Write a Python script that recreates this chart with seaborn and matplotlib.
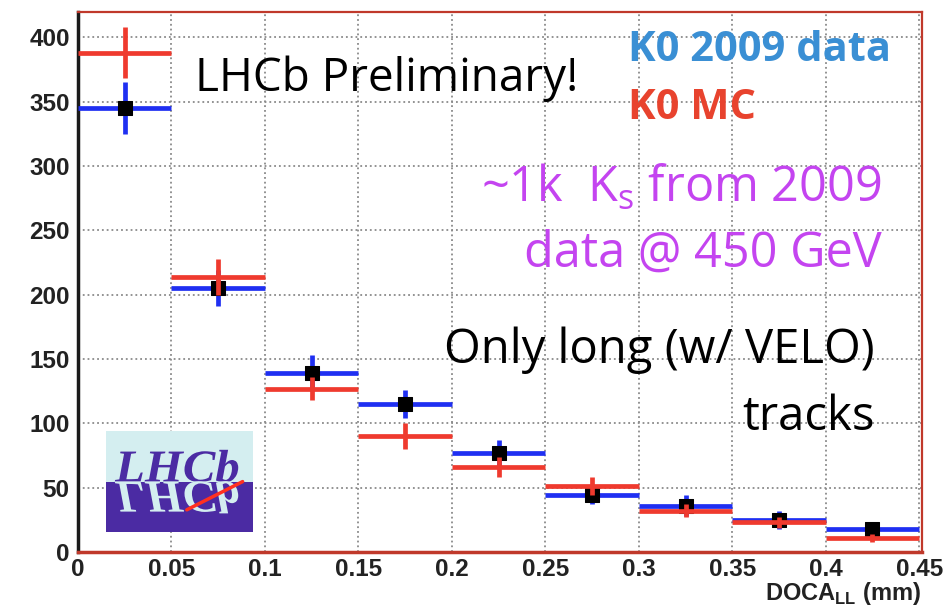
import numpy as np
import pandas as pd
import seaborn as sns
import matplotlib
matplotlib.use("Agg")
import matplotlib.pyplot as plt
from matplotlib.patches import Rectangle, PathPatch
from matplotlib.textpath import TextPath
from matplotlib.font_manager import FontProperties
from matplotlib.transforms import Affine2D
from matplotlib.ticker import MultipleLocator

# DOCA bins (mm)
bin_centers = [0.025, 0.075, 0.125, 0.175, 0.225, 0.275, 0.325, 0.375, 0.425]
bin_half = 0.025

# K0 2009 data
data_vals = [345, 205, 139, 115, 77, 44, 36, 25, 18]
data_err = [20, 14, 14, 11, 10, 7, 8, 7, 4]

# K0 MC
mc_vals = [388, 214, 127, 90, 66, 51, 32, 23, 11]
mc_err = [20, 14, 9, 10, 8, 7, 5, 4, 3]

df = pd.DataFrame({"doca": bin_centers, "data": data_vals})

sns.set_style("white")
plt.rcParams["font.family"] = ["Liberation Sans", "DejaVu Sans"]

fig = plt.figure(figsize=(9.48, 6.11), dpi=100)
ax = fig.add_axes([0.0823, 0.0966, 0.8903, 0.8834])

blue = "#1f2ff2"
red = "#ef3a2e"

ax.errorbar(bin_centers, data_vals, xerr=bin_half, yerr=data_err, fmt="none",
            ecolor=blue, elinewidth=3.4, capsize=0, zorder=3)
sns.scatterplot(data=df, x="doca", y="data", marker="s", s=90, color="black",
                edgecolor="black", ax=ax, zorder=4)
ax.errorbar(bin_centers, mc_vals, xerr=bin_half, yerr=mc_err, fmt="none",
            ecolor=red, elinewidth=3.4, capsize=0, zorder=5)

ax.set_xlim(0, 0.4515)
ax.set_ylim(0, 419.5)
ax.xaxis.set_major_locator(MultipleLocator(0.05))
ax.xaxis.set_minor_locator(MultipleLocator(0.01))
ax.yaxis.set_major_locator(MultipleLocator(50))
ax.yaxis.set_minor_locator(MultipleLocator(10))
ax.set_xticks(np.arange(0, 0.451, 0.05))
ax.set_xticklabels(["0", "0.05", "0.1", "0.15", "0.2", "0.25", "0.3", "0.35", "0.4", "0.45"])
ax.tick_params(axis="both", which="both", direction="in", colors="#555555",
               labelcolor="#222222", labelsize=17.5)
ax.tick_params(axis="y", which="major", length=22, width=1.6, pad=6)
ax.tick_params(axis="y", which="minor", length=12, width=1.4)
ax.tick_params(axis="x", which="major", length=14, width=1.6, pad=4)
ax.tick_params(axis="x", which="minor", length=7, width=1.4)
for lab in ax.get_xticklabels() + ax.get_yticklabels():
    lab.set_fontweight("bold")
ax.set_xlabel("")
ax.set_ylabel("")
ax.xaxis.grid(True, which="major", linestyle=":", color="#8a8a8a", linewidth=1.3)
ax.yaxis.grid(True, which="major", linestyle=":", color="#8a8a8a", linewidth=1.3)
ax.set_axisbelow(True)

ax.spines["left"].set_color("#1a1a1a")
ax.spines["left"].set_linewidth(2.5)
for s in ["bottom", "top", "right"]:
    ax.spines[s].set_color("#c0392b")
    ax.spines[s].set_linewidth(1.6)
ax.spines["bottom"].set_linewidth(2.5)

fig.text(0.971, 0.006, r"DOCA$_{\mathregular{LL}}$ (mm)", ha="right", va="bottom",
         fontsize=17, fontweight="bold", color="#222222")

# annotations
hand = ["Open Sans", "DejaVu Sans"]
ax.text(0.0626, 368, "LHCb Preliminary!", fontsize=33, family=hand, color="black",
        ha="left", va="center")
ax.text(0.294, 390, "K0 2009 data", fontsize=30, family=hand,
        fontweight="bold", color="#3a8fd4", ha="left", va="center")
ax.text(0.294, 345, "K0 MC", fontsize=30, family=hand,
        fontweight="bold", color="#e8432e", ha="left", va="center")
ax.text(0.430, 282, r"~1k  K$_\mathregular{s}$ from 2009", fontsize=35, family=hand,
        color="#c444f0", ha="right", va="center")
ax.text(0.430, 232, "data @ 450 GeV", fontsize=35, family=hand,
        color="#c444f0", ha="right", va="center")
ax.text(0.426, 157, "Only long (w/ VELO)", fontsize=34, family=hand,
        color="black", ha="right", va="center")
ax.text(0.426, 105, "tracks", fontsize=34, family=hand,
        color="black", ha="right", va="center")

# LHCb logo
lax = fig.add_axes([0.1118, 0.1293, 0.155, 0.165])
lax.set_xlim(0, 1)
lax.set_ylim(0, 1)
lax.axis("off")
lax.add_patch(Rectangle((0, 0.5), 1, 0.5, color="#d4eef0", lw=0))
lax.add_patch(Rectangle((0, 0), 1, 0.5, color="#4b2ba3", lw=0))
tp = TextPath((0, 0), "LHCb", size=1,
              prop=FontProperties(family="Liberation Serif", style="italic", weight="bold"))
ext = tp.get_extents()
sx = 0.84 / ext.width
sy = 0.30 / 0.66
tr_up = Affine2D().translate(-ext.x0, 0).scale(sx, sy).translate(0.06, 0.5)
tr_dn = Affine2D().translate(-ext.x0, 0).scale(sx, -sy).translate(0.06, 0.5)
lax.add_patch(PathPatch(tr_up.transform_path(tp), color="#4b2ba3", lw=0))
lax.add_patch(PathPatch(tr_dn.transform_path(tp), color="#d4eef0", lw=0))
lax.plot([0.55, 0.93], [0.22, 0.5], color="#ff3020", lw=2.5)

fig.savefig("out.png", dpi=100)
